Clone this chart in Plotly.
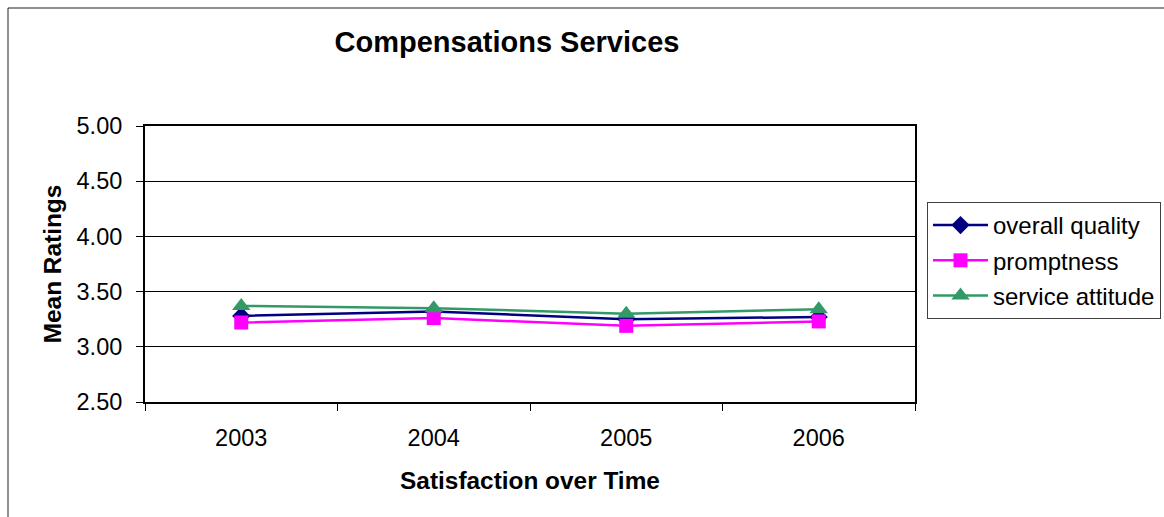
import plotly.graph_objects as go

years = ["2003", "2004", "2005", "2006"]
overall_quality = [3.28, 3.32, 3.25, 3.27]
promptness = [3.22, 3.26, 3.19, 3.23]
service_attitude = [3.37, 3.35, 3.30, 3.34]
y_ticks = [2.5, 3.0, 3.5, 4.0, 4.5, 5.0]

FONT = "Liberation Sans, Arial, sans-serif"
W, H = 1164, 517
L, R, T, B = 145, 915, 126, 402

fig = go.Figure()
fig.add_trace(go.Scatter(x=years, y=overall_quality, name="overall quality",
                         mode="lines+markers", legendgroup="a",
                         line=dict(color="#000080", width=2.5),
                         marker=dict(symbol="diamond", size=14, color="#000080")))
fig.add_trace(go.Scatter(x=years, y=promptness, name="promptness",
                         mode="lines+markers", legendgroup="b",
                         line=dict(color="#FF00FF", width=2.5),
                         marker=dict(symbol="square", size=14, color="#FF00FF")))
fig.add_trace(go.Scatter(x=years, y=service_attitude, name="service attitude",
                         mode="lines+markers", legendgroup="c",
                         line=dict(color="#339966", width=2.5),
                         marker=dict(symbol="triangle-up", size=16, color="#339966")))

fig.update_layout(
    width=W, height=H,
    margin=dict(l=L, r=W - R, t=T, b=H - B, pad=0, autoexpand=False),
    paper_bgcolor="white", plot_bgcolor="white",
    font=dict(family=FONT, size=23.5, color="black"),
    title=dict(text="<b>Compensations Services</b>", x=507 / W, xanchor="center",
               y=1 - 42 / H, yanchor="middle", yref="container",
               font=dict(size=29, family=FONT, color="black")),
    showlegend=True,
    legend=dict(xref="container", x=927 / W, xanchor="left",
                yref="container", y=1 - 202 / H, yanchor="top",
                bordercolor="#404040", borderwidth=1, bgcolor="white",
                font=dict(size=24, family=FONT, color="black"),
                itemwidth=55, tracegroupgap=1),
    xaxis=dict(type="category", range=[-0.5, 3.5], tickson="boundaries",
               ticks="outside", ticklen=7, tickwidth=1, tickcolor="black",
               showline=True, linecolor="black", linewidth=2, mirror=True,
               showgrid=False, zeroline=False, automargin=False,
               ticklabelstandoff=14,
               title=dict(text="<b>Satisfaction over Time</b>",
                          font=dict(size=24.4, family=FONT, color="black"),
                          standoff=22)),
    yaxis=dict(range=[2.5, 5.0], tickvals=y_ticks, tickformat=".2f",
               ticks="outside", ticklen=7, tickwidth=1, tickcolor="black",
               showline=True, linecolor="black", linewidth=2, mirror=True,
               showgrid=True, gridcolor="black", gridwidth=1, zeroline=False,
               automargin=False,
               ticklabelstandoff=9,
               title=dict(text="<b>Mean Ratings</b>",
                          font=dict(size=24.4, family=FONT, color="black"),
                          standoff=8)),
    shapes=[dict(type="rect", xref="paper", yref="paper",
                 x0=(8 - L) / (R - L), x1=(1200 - L) / (R - L),
                 y0=(B - 560) / (B - T), y1=(B - 8) / (B - T),
                 line=dict(color="#202020", width=1), fillcolor="rgba(0,0,0,0)",
                 layer="below")],
)

fig.write_html("out.html", config={"displayModeBar": False},
               post_script="document.body.style.margin='0';document.body.style.padding='0';")
